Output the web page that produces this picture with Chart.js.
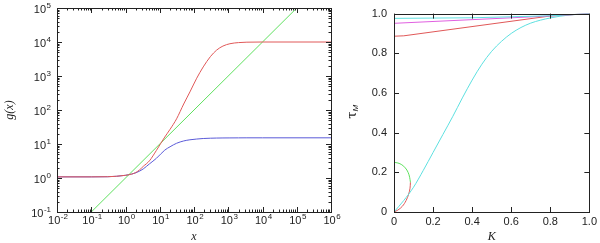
<!DOCTYPE html>
<html>
<head>
<meta charset="utf-8">
<script src="https://cdn.jsdelivr.net/npm/chart.js@4.4.1/dist/chart.umd.min.js"></script>
<style>
  html, body { margin: 0; padding: 0; background: #fff; }
  #wrap { position: relative; width: 600px; height: 243px; overflow: hidden; }
  #left { position: absolute; left: 0; top: 0; }
  #right { position: absolute; left: 340px; top: 0; }
</style>
</head>
<body>
<div id="wrap">
  <canvas id="left" width="350" height="243"></canvas>
  <canvas id="right" width="260" height="243"></canvas>
</div>
<script>
// left panel: g(x) on log-log axes
const gX = [0.01, 0.1, 0.3, 1, 1.5, 2, 2.6, 3.3, 5, 8, 14, 20, 31, 50, 76, 120, 186, 300, 460, 700, 1120, 2000, 3500, 10000, 1e6];
const gRed = [1.08, 1.08, 1.09, 1.2, 1.3, 1.45, 1.75, 2.2, 3.2, 6.5, 16, 27, 55, 150, 340, 860, 1850, 3700, 5800, 7600, 8900, 9600, 9880, 9990, 10000];
const gBlue = [1.08, 1.08, 1.09, 1.2, 1.3, 1.42, 1.6, 1.85, 2.6, 3.8, 6.6, 8.3, 10.5, 12.3, 13.3, 14, 14.5, 14.8, 14.95, 15.05, 15.1, 15.15, 15.2, 15.2, 15.2];
const gGreenX = [0.1, 100000];
const gGreenY = [0.1, 100000];
const xExps = [-2, -1, 0, 1, 2, 3, 4, 5, 6];
const yExps = [-1, 0, 1, 2, 3, 4, 5];

// right panel: tau_M against K
const kCyan = [0, 0.05, 0.1, 0.15, 0.2, 0.25, 0.3, 0.35, 0.4, 0.45, 0.5, 0.55, 0.6, 0.65, 0.7, 0.75, 0.8, 0.85, 0.9, 0.95, 1];
const tCyan = [0, 0.058, 0.125, 0.21, 0.3, 0.39, 0.48, 0.575, 0.665, 0.745, 0.81, 0.86, 0.9, 0.93, 0.952, 0.967, 0.978, 0.987, 0.993, 0.997, 1];
const kTopCyan = [0, 0.4, 0.8, 1];
const tTopCyan = [0.976, 0.979, 0.989, 1];
const kMagenta = [0, 0.8, 1];
const tMagenta = [0.951, 0.988, 1];
const kRed = [0, 0.05, 0.8, 1];
const tRed = [0.886, 0.888, 0.988, 1];
const kLoopGreen = [0, 0.02, 0.04, 0.058, 0.072, 0.08, 0.084];
const tLoopGreen = [0.25, 0.247, 0.238, 0.222, 0.2, 0.175, 0.15];
const kLoopRed = [0.084, 0.082, 0.075, 0.062, 0.042, 0.02, 0];
const tLoopRed = [0.15, 0.12, 0.09, 0.058, 0.028, 0.01, 0];
const linTicks = [0, 0.2, 0.4, 0.6, 0.8, 1];

const RED = '#e05858', GREEN = '#5ee05e', BLUE = '#5a5ad8', MAGENTA = '#e060e0', CYAN = '#5ee0e0';
const FAMILY = "'Liberation Sans', Arial, sans-serif";
const FONT = { family: FAMILY, size: 11 };

function pts(xs, ys) { return xs.map((x, i) => ({ x: x, y: ys[i] })); }
function line(data, color, extra) {
  return Object.assign({ data: data, borderColor: color, borderWidth: 1, pointRadius: 0, showLine: true, fill: false }, extra || {});
}

// box round the plot plus inward ticks on all four sides
function frame(logMinor) {
  return {
    id: 'frame',
    afterDatasetsDraw(chart) {
      const ctx = chart.ctx, a = chart.chartArea;
      const xs = chart.scales.x, ys = chart.scales.y;
      ctx.save();
      ctx.strokeStyle = '#222';
      ctx.lineWidth = 1;
      ctx.beginPath();
      const xt = (v, len) => {
        const p = Math.round(xs.getPixelForValue(v)) + 0.5;
        ctx.moveTo(p, a.bottom); ctx.lineTo(p, a.bottom - len);
        ctx.moveTo(p, a.top); ctx.lineTo(p, a.top + len);
      };
      const yt = (v, len) => {
        const p = Math.round(ys.getPixelForValue(v)) + 0.5;
        ctx.moveTo(a.left, p); ctx.lineTo(a.left + len, p);
        ctx.moveTo(a.right, p); ctx.lineTo(a.right - len, p);
      };
      xs.ticks.forEach(t => xt(t.value, 5));
      ys.ticks.forEach(t => yt(t.value, 5));
      if (logMinor) {
        for (let d = xExps[0]; d < xExps[xExps.length - 1]; d++)
          for (let m = 2; m < 10; m++) xt(m * Math.pow(10, d), 2.5);
        for (let d = yExps[0]; d < yExps[yExps.length - 1]; d++)
          for (let m = 2; m < 10; m++) yt(m * Math.pow(10, d), 2.5);
      }
      ctx.stroke();
      ctx.strokeRect(Math.round(a.left) + 0.5, Math.round(a.top) + 0.5, Math.round(a.right - a.left), Math.round(a.bottom - a.top));
      ctx.restore();
    }
  };
}

// "10" with a raised exponent for the log axes
const powerLabels = {
  id: 'powerLabels',
  afterDraw(chart) {
    const ctx = chart.ctx, a = chart.chartArea;
    const xs = chart.scales.x, ys = chart.scales.y;
    const big = '11px ' + FAMILY, small = '8px ' + FAMILY;
    ctx.save();
    ctx.fillStyle = '#222';
    ctx.textBaseline = 'alphabetic';
    ctx.textAlign = 'left';
    const draw = (e, x, y) => {
      ctx.font = big;
      const wb = ctx.measureText('10').width;
      ctx.fillText('10', x, y);
      ctx.font = small;
      ctx.fillText(String(e), x + wb + 0.5, y - 5);
    };
    const width = e => {
      ctx.font = big;
      const wb = ctx.measureText('10').width;
      ctx.font = small;
      return wb + 0.5 + ctx.measureText(String(e)).width;
    };
    xExps.forEach(e => {
      const p = xs.getPixelForValue(Math.pow(10, e));
      draw(e, p - width(e) / 2 + 1, a.bottom + 12);
    });
    yExps.forEach(e => {
      const p = ys.getPixelForValue(Math.pow(10, e));
      draw(e, a.left - 6 - width(e), p + 5);
    });
    ctx.restore();
  }
};

// tau with subscript M as the y axis title of the right panel
const tauTitle = {
  id: 'tauTitle',
  afterDraw(chart) {
    const ctx = chart.ctx, a = chart.chartArea;
    ctx.save();
    ctx.translate(13, (a.top + a.bottom) / 2);
    ctx.rotate(-Math.PI / 2);
    ctx.fillStyle = '#222';
    ctx.textBaseline = 'middle';
    ctx.font = "13px 'DejaVu Serif', serif";
    const w = ctx.measureText('\u03C4').width;
    ctx.fillText('\u03C4', -6, 0);
    ctx.font = "italic 8px " + FAMILY;
    ctx.fillText('M', -6 + w, 3);
    ctx.restore();
  }
};

new Chart(document.getElementById('left'), {
  type: 'scatter',
  data: {
    datasets: [
      line(pts(gX, gRed), RED, { cubicInterpolationMode: 'monotone' }),
      line(pts(gGreenX, gGreenY), GREEN),
      line(pts(gX, gBlue), BLUE, { cubicInterpolationMode: 'monotone' })
    ]
  },
  options: {
    responsive: false,
    animation: false,
    layout: { padding: { top: 8, right: 19, bottom: 0, left: 0 } },
    plugins: { legend: { display: false }, tooltip: { enabled: false } },
    scales: {
      x: {
        type: 'logarithmic', min: 0.01, max: 1e6,
        grid: { display: false, drawTicks: false }, border: { display: false },
        afterBuildTicks: s => { s.ticks = xExps.map(e => ({ value: Math.pow(10, e) })); },
        afterFit: s => { s.height = 31; },
        ticks: { display: false },
        title: { display: true, text: 'x', color: '#222', padding: 0, font: { family: "'Liberation Serif', serif", style: 'italic', size: 12, lineHeight: 1 } }
      },
      y: {
        type: 'logarithmic', min: 0.1, max: 1e5,
        grid: { display: false, drawTicks: false }, border: { display: false },
        afterBuildTicks: s => { s.ticks = yExps.map(e => ({ value: Math.pow(10, e) })); },
        afterFit: s => { s.width = 57; },
        ticks: { display: false },
        title: { display: true, text: 'g(x)', color: '#222', padding: { top: 4, bottom: 0 }, font: { family: "'Liberation Serif', serif", style: 'italic', size: 12, lineHeight: 1 } }
      }
    }
  },
  plugins: [frame(true), powerLabels]
});

new Chart(document.getElementById('right'), {
  type: 'scatter',
  data: {
    datasets: [
      line(pts(kTopCyan, tTopCyan), CYAN),
      line(pts(kMagenta, tMagenta), MAGENTA),
      line(pts(kRed, tRed), RED),
      line(pts(kCyan, tCyan), CYAN, { cubicInterpolationMode: 'monotone' }),
      line(pts(kLoopGreen, tLoopGreen), GREEN, { tension: 0.4 }),
      line(pts(kLoopRed, tLoopRed), RED, { tension: 0.4 })
    ]
  },
  options: {
    responsive: false,
    animation: false,
    layout: { padding: { top: 9, right: 4, bottom: 0, left: 0 } },
    plugins: { legend: { display: false }, tooltip: { enabled: false } },
    scales: {
      x: {
        type: 'linear', min: 0, max: 1,
        grid: { display: false, drawTicks: false }, border: { display: false },
        afterBuildTicks: s => { s.ticks = linTicks.map(v => ({ value: v })); },
        afterFit: s => { s.height = 31; },
        ticks: { font: FONT, color: '#222', padding: 3, maxRotation: 0, autoSkip: false },
        title: { display: true, text: 'K', color: '#222', padding: 0, font: { family: "'Liberation Serif', serif", style: 'italic', size: 12, lineHeight: 1 } }
      },
      y: {
        type: 'linear', min: 0, max: 1,
        grid: { display: false, drawTicks: false }, border: { display: false },
        afterBuildTicks: s => { s.ticks = linTicks.map(v => ({ value: v })); },
        afterFit: s => { s.width = 54; },
        ticks: { font: FONT, color: '#222', padding: 7, autoSkip: false }
      }
    }
  },
  plugins: [frame(false), tauTitle]
});
</script>
</body>
</html>
